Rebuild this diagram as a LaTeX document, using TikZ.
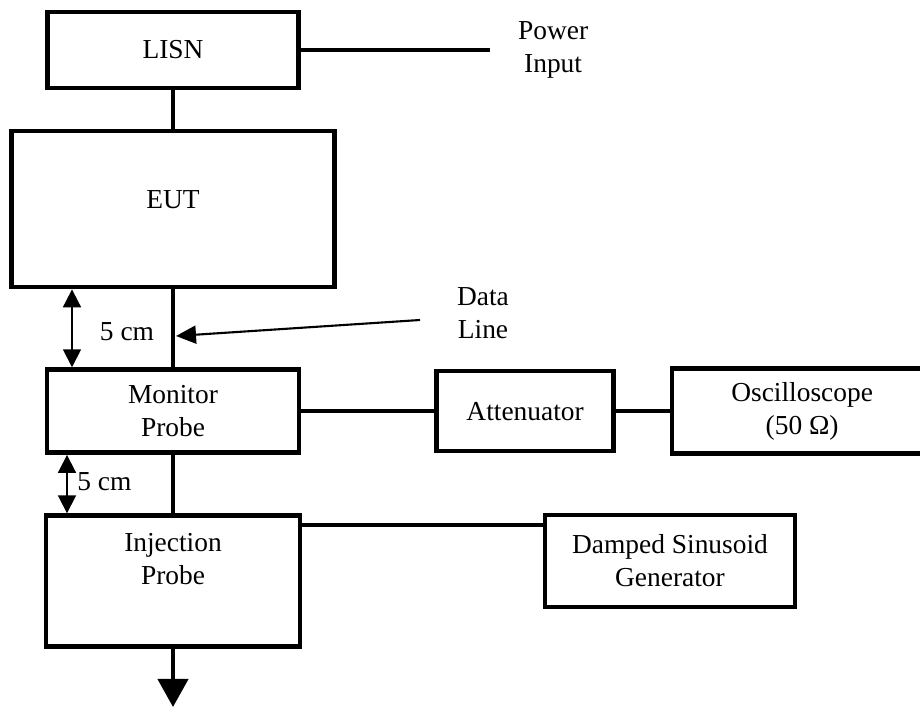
\documentclass[tikz,border=0pt]{standalone}
\usepackage{fontspec}
\setmainfont{Liberation Serif}
\usetikzlibrary{arrows.meta}

\begin{document}
\begin{tikzpicture}[
  x=0.025cm, y=-0.025cm,
  block/.style={rectangle, draw, line width=3.3pt, align=center},
  wire/.style={line width=3pt},
  dimline/.style={line width=1.3pt, {Triangle[length=0.45cm,width=0.45cm]}-{Triangle[length=0.45cm,width=0.45cm]}},
  pointer/.style={line width=1.5pt, -{Triangle[length=0.5cm,width=0.45cm]}},
  node distance=2.2cm,
  font=\fontsize{19.5}{23.4}\selectfont
]
\clip (0,0) rectangle (920,707);

\node[block, minimum width=6.275cm, minimum height=1.9cm] (lisn) at (173,50) {LISN};
\node[block, below of=lisn, node distance=3.975cm, minimum width=8.075cm, minimum height=3.9cm, text depth=0.5cm] (eut) {EUT};
\node[block, below of=eut, node distance=5.05cm, minimum width=6.3cm, minimum height=2.075cm] (mon) {Monitor\\Probe};
\node[block, below of=mon, node distance=4.25cm, minimum width=6.35cm, minimum height=3.275cm] (inj) {};
\node[anchor=north, inner sep=0pt, align=center] (injtext) at ([yshift=-0.5cm]inj.north) {Injection\\Probe};

\node[block, right of=mon, node distance=8.8cm, minimum width=4.425cm, minimum height=2cm] (att) {Attenuator};
\node[block, right of=att, node distance=6.925cm, minimum width=6.5cm, minimum height=2.125cm] (osc) {Oscilloscope\\(50 Ω)};
\node[block, minimum width=6.25cm, minimum height=2.3cm] (damp) at (670,561) {Damped Sinusoid\\Generator};

\node[align=center, right of=lisn, node distance=9.5cm] (power) {Power\\Input};
\node[align=center] (data) at (483,313) {Data\\Line};

\node (gap1) at (127,332) {5 cm};
\node[anchor=west, inner sep=0pt] (gap2) at (77,482) {5 cm};

\coordinate (pwr) at (490,50);
\coordinate (dtail) at (420,320);
\coordinate (dhead) at (176,336);
\coordinate (g1) at (72,0);
\coordinate (g2) at (67,0);
\coordinate (out) at (173,707);

\draw[wire] (lisn.east) -- (pwr);
\draw[wire] (eut.north |- lisn.south) -- (eut.north);
\draw[wire] (eut.south) -- (eut.south |- mon.north);
\draw[wire] (eut.south |- mon.south) -- (eut.south |- inj.north);
\draw[wire] (mon.east) -- (mon.east -| att.west);
\draw[wire] (att.east) -- (att.east -| osc.west);
\draw[wire] ([yshift=-0.3cm]inj.north east) -- ([yshift=-0.3cm]inj.north east -| damp.west);
\draw[wire, -{Triangle[length=0.7cm,width=0.75cm]}] (eut.south |- inj.south) -- (out);

\draw[pointer] (dtail) -- (dhead);
\draw[dimline] (eut.south -| g1) -- (mon.north -| g1);
\draw[dimline] (mon.south -| g2) -- (inj.north -| g2);
\end{tikzpicture}
\end{document}
